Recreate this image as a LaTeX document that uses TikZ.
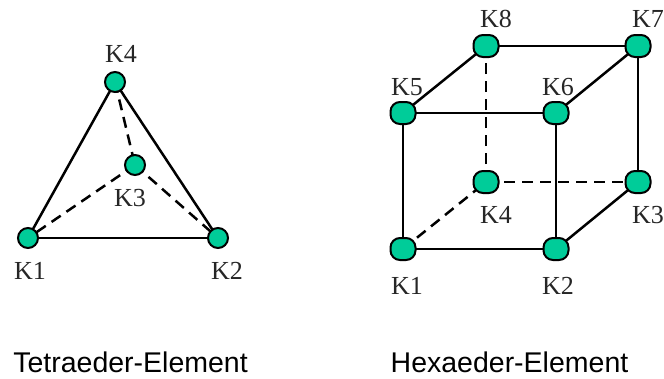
\documentclass[tikz,border=0pt]{standalone}
\usepackage{fontspec}
\setmainfont{Liberation Serif}
\newfontfamily\capfont{Liberation Sans}
\usetikzlibrary{backgrounds,shapes.geometric}
\definecolor{knotgreen}{RGB}{0,204,153}
\tikzset{
  x=1pt,y=-1pt,
  knot/.style={circle,draw=black,line width=2pt,fill=knotgreen,inner sep=0pt,minimum size=20pt},
  hexknot/.style={rectangle,rounded corners=9.5pt,draw=black,line width=2pt,fill=knotgreen,inner sep=0pt,minimum width=25pt,minimum height=22pt},
  edgeline/.style={line width=2.5pt,black},
  hiddenline/.style={line width=2.5pt,black,dash pattern=on 11pt off 7pt},
  lab/.style={inner sep=0pt,font=\fontsize{26}{26}\selectfont,text=black!85},
  captext/.style={inner sep=0pt,font=\capfont\fontsize{28.5}{28.5}\selectfont,text=black}
}
\begin{document}
\begin{tikzpicture}
\useasboundingbox (0,0) rectangle (664,378);
% tetrahedron
\node[knot] (t1) at (28,238) {};
\node[knot] (t2) at (218,238) {};
\node[knot] (t3) at (135,165) {};
\node[knot] (t4) at (115,82) {};
\begin{scope}[on background layer]
\draw[hiddenline] (t4.center) -- (t3.center);
\draw[hiddenline] (t3.center) -- (t1.center);
\draw[hiddenline] (t3.center) -- (t2.center);
\draw[edgeline] (t1.center) -- (t2.center);
\draw[edgeline] (t1.center) -- (t4.center);
\draw[edgeline] (t2.center) -- (t4.center);
\end{scope}
\node[lab] (lt1) at (30,271) {K1};
\node[lab] (lt2) at (227,271) {K2};
\node[lab] (lt3) at (130,198) {K3};
\node[lab] (lt4) at (121,54) {K4};
% hexahedron
\node[hexknot] (h1) at (403,249) {};
\node[hexknot] (h2) at (556,249) {};
\node[hexknot] (h3) at (638,182) {};
\node[hexknot] (h4) at (486,182) {};
\node[hexknot] (h5) at (403,113) {};
\node[hexknot] (h6) at (556,113) {};
\node[hexknot] (h7) at (638,46) {};
\node[hexknot] (h8) at (486,46) {};
\begin{scope}[on background layer]
\draw[hiddenline] (h1.center) -- (h4.center);
\draw[hiddenline] (h4.center) -- (h3.center);
\draw[hiddenline] (h4.center) -- (h8.center);
\draw[edgeline] (h1.center) -- (h2.center);
\draw[edgeline] (h2.center) -- (h3.center);
\draw[edgeline] (h3.center) -- (h7.center);
\draw[edgeline] (h7.center) -- (h8.center);
\draw[edgeline] (h8.center) -- (h5.center);
\draw[edgeline] (h5.center) -- (h6.center);
\draw[edgeline] (h6.center) -- (h7.center);
\draw[edgeline] (h1.center) -- (h5.center);
\draw[edgeline] (h2.center) -- (h6.center);
\end{scope}
\node[lab] (l1) at (407,286) {K1};
\node[lab] (l2) at (558,286) {K2};
\node[lab] (l3) at (648,215) {K3};
\node[lab] (l4) at (496,215) {K4};
\node[lab] (l5) at (407,87) {K5};
\node[lab] (l6) at (558,87) {K6};
\node[lab] (l7) at (648,19) {K7};
\node[lab] (l8) at (496,19) {K8};
% captions
\node[captext] (c1) at (130.5,362.5) {Tetraeder-Element};
\node[captext] (c2) at (509.5,362.5) {Hexaeder-Element};
\end{tikzpicture}
\end{document}
